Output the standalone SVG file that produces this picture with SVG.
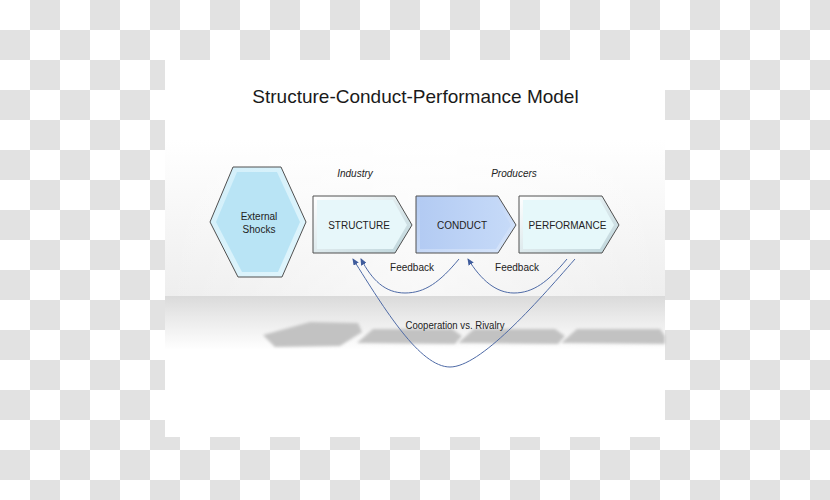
<svg xmlns="http://www.w3.org/2000/svg" width="830" height="500" viewBox="0 0 830 500">
<defs>
<pattern id="checker" x="0" y="0" width="60" height="60" patternUnits="userSpaceOnUse">
<rect x="0" y="0" width="60" height="60" fill="#ffffff"/>
<rect x="30" y="0" width="30" height="30" fill="#e2e2e2"/>
<rect x="0" y="30" width="30" height="30" fill="#e2e2e2"/>
</pattern>
<linearGradient id="bandTop" x1="0" y1="0" x2="0" y2="1">
<stop offset="0" stop-color="#ffffff"/>
<stop offset="1" stop-color="#eeeeee"/>
</linearGradient>
<linearGradient id="bandBottom" x1="0" y1="0" x2="0" y2="1">
<stop offset="0" stop-color="#dadada"/>
<stop offset="0.4" stop-color="#eaeaea"/>
<stop offset="1" stop-color="#ffffff"/>
</linearGradient>
<linearGradient id="vignette" x1="0" y1="0" x2="1" y2="0">
<stop offset="0" stop-color="#ffffff" stop-opacity="0"/>
<stop offset="0.5" stop-color="#ffffff" stop-opacity="0.6"/>
<stop offset="1" stop-color="#ffffff" stop-opacity="0"/>
</linearGradient>
<linearGradient id="bevelLight" x1="0" y1="0" x2="1" y2="1">
<stop offset="0" stop-color="#ffffff"/>
<stop offset="1" stop-color="#bcd4da"/>
</linearGradient>
<linearGradient id="bevelConduct" x1="0" y1="0" x2="1" y2="1">
<stop offset="0" stop-color="#b4cbf2"/>
<stop offset="1" stop-color="#d8e6fb"/>
</linearGradient>
<linearGradient id="faceConduct" x1="0" y1="0" x2="1" y2="0">
<stop offset="0" stop-color="#b3cbf3"/>
<stop offset="1" stop-color="#c6daf8"/>
</linearGradient>
<linearGradient id="bevelHex" x1="0" y1="0" x2="1" y2="1">
<stop offset="0" stop-color="#d2effa"/>
<stop offset="1" stop-color="#e0f5fc"/>
</linearGradient>
<filter id="blur" x="-10%" y="-50%" width="120%" height="200%">
<feGaussianBlur stdDeviation="1.5"/>
</filter>
<marker id="arrow" markerWidth="7" markerHeight="6" refX="6" refY="3" orient="auto" markerUnits="userSpaceOnUse">
<path d="M0,0 L7,3 L0,6 z" fill="#3f5c9c"/>
</marker>
</defs>
<style>
.lbl{font-family:"Liberation Sans",Arial,sans-serif;font-size:10px;fill:#222222;text-anchor:middle}
.it{font-family:"Liberation Sans",Arial,sans-serif;font-size:10px;font-style:italic;fill:#222222;text-anchor:middle}
.edge{fill:none;stroke:#4e6aa6;stroke-width:1}
.outline{stroke:#505050;stroke-width:1}
.shadow{fill:#c2c2c2;filter:url(#blur)}
</style>

<rect x="0" y="0" width="830" height="500" fill="url(#checker)"/>

<g id="panel">
<rect x="165" y="60" width="500" height="377" fill="#ffffff"/>
<rect x="165" y="140" width="500" height="156" fill="url(#bandTop)"/>
<rect x="165" y="140" width="500" height="156" fill="url(#vignette)"/>
<rect x="165" y="296" width="500" height="54" fill="url(#bandBottom)"/>
<polygon class="shadow" points="263,335 310,322 358,323 362,332 340,346 275,347"/>
<polygon class="shadow" points="357,343 373,329 452,329 462,336 455,344"/>
<polygon class="shadow" points="458,343 474,329 555,329 565,336 558,344"/>
<polygon class="shadow" points="561,343 577,329 660,329 665,336 665,344"/>
</g>

<text x="415.5" y="103" font-family="Liberation Sans, Arial, sans-serif" font-size="19" fill="#1a1a1a" text-anchor="middle">Structure-Conduct-Performance  Model</text>

<g id="external-shocks">
<polygon class="outline" points="210,222 233,167 281,167 306,222 282,277 238,277" fill="url(#bevelHex)"/>
<polygon points="216,222 237,172 277,172 300,222 278,272 242,272" fill="#b9e4f5"/>
<text class="lbl" x="259" y="220" font-size="11">External</text>
<text class="lbl" x="259" y="233" font-size="11">Shocks</text>
</g>

<g id="structure">
<polygon class="outline" points="313,196 395,196 412,225 395,253 313,253" fill="url(#bevelLight)"/>
<polygon points="317,200 393,200 407,225 393,249 317,249" fill="#e7f7fa"/>
<text class="lbl" x="359" y="229">STRUCTURE</text>
</g>

<g id="conduct">
<polygon class="outline" points="416,196 498,196 516,225 498,253 416,253" fill="url(#bevelConduct)"/>
<polygon points="420,200 496,200 511,225 496,249 420,249" fill="url(#faceConduct)"/>
<text class="lbl" x="462" y="229">CONDUCT</text>
</g>

<g id="performance">
<polygon class="outline" points="519,196 602,196 619,225 602,253 519,253" fill="url(#bevelLight)"/>
<polygon points="523,200 600,200 614,225 600,249 523,249" fill="#e6f8fa"/>
<text class="lbl" x="567.5" y="229">PERFORMANCE</text>
</g>

<g id="labels">
<text class="it" x="355" y="177">Industry</text>
<text class="it" x="514" y="177">Producers</text>
</g>

<g id="connectors">
<path class="edge" marker-end="url(#arrow)" d="M459,259 C440,282 425,293 405,293 C385,293 372,280 361,259"/>
<path class="edge" marker-end="url(#arrow)" d="M567,259 C548,282 533,293 514,293 C496,293 481,280 468,259"/>
<path class="edge" marker-end="url(#arrow)" d="M575,259 C535,305 480,367 450,367 C420,367 385,310 353,259"/>
<text class="lbl" x="412" y="271">Feedback</text>
<text class="lbl" x="517" y="271">Feedback</text>
<text class="lbl" x="455" y="329" textLength="99" lengthAdjust="spacingAndGlyphs">Cooperation vs. Rivalry</text>
</g>
</svg>
